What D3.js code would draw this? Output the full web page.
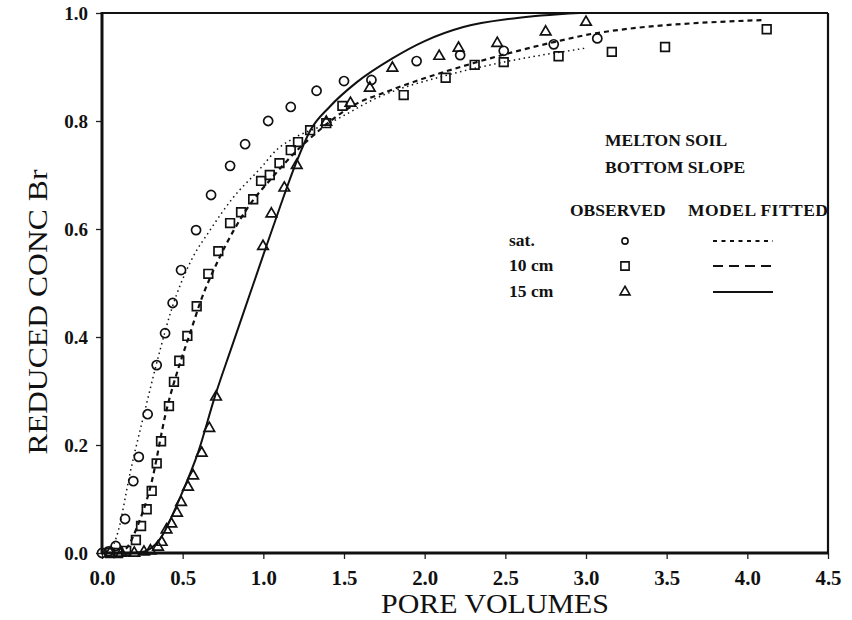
<!DOCTYPE html>
<html>
<head>
<meta charset="utf-8">
<script src="https://cdn.jsdelivr.net/npm/d3@7"></script>
<style>
  body { margin: 0; background: #fff; }
  text { fill: #111; }
</style>
</head>
<body>
<div id="main"></div>
<script>
// observed points (pore volumes, reduced conc)
var satObs = [[0.0, 0.0], [0.04, 0.003], [0.085, 0.013], [0.143, 0.063], [0.194, 0.133], [0.228, 0.178],
  [0.283, 0.257], [0.339, 0.348], [0.391, 0.407], [0.438, 0.463], [0.49, 0.524], [0.583, 0.598],
  [0.676, 0.663], [0.794, 0.717], [0.887, 0.757], [1.03, 0.80], [1.17, 0.826], [1.33, 0.856],
  [1.50, 0.874], [1.67, 0.876], [1.95, 0.911], [2.22, 0.922], [2.49, 0.93], [2.80, 0.942], [3.07, 0.953]];

var cm10Obs = [[0.05, 0.0], [0.1, 0.0], [0.15, 0.004], [0.21, 0.024], [0.242, 0.05], [0.277, 0.081],
  [0.308, 0.115], [0.339, 0.166], [0.366, 0.207], [0.415, 0.272], [0.446, 0.317], [0.479, 0.356],
  [0.529, 0.402], [0.587, 0.457], [0.659, 0.517], [0.721, 0.559], [0.794, 0.611], [0.862, 0.631],
  [0.937, 0.655], [0.986, 0.689], [1.04, 0.70], [1.10, 0.722], [1.17, 0.746], [1.215, 0.761],
  [1.29, 0.783], [1.39, 0.796], [1.49, 0.828], [1.87, 0.848], [2.13, 0.88], [2.31, 0.904],
  [2.49, 0.909], [2.83, 0.92], [3.16, 0.928], [3.49, 0.937], [4.12, 0.97]];

var cm15Obs = [[0.05, 0.0], [0.12, 0.0], [0.2, 0.0], [0.26, 0.002], [0.3, 0.004], [0.347, 0.011],
  [0.37, 0.02], [0.40, 0.043], [0.43, 0.054], [0.465, 0.074], [0.49, 0.094], [0.533, 0.122],
  [0.565, 0.143], [0.618, 0.185], [0.665, 0.231], [0.707, 0.289], [0.998, 0.568], [1.05, 0.628],
  [1.13, 0.676], [1.207, 0.718], [1.39, 0.798], [1.54, 0.833], [1.66, 0.861], [1.80, 0.898],
  [2.09, 0.92], [2.21, 0.935], [2.45, 0.944], [2.75, 0.965], [3.0, 0.983]];

// model fitted curves
var satFit = [[0.05, 0.0], [0.1, 0.04], [0.174, 0.148], [0.267, 0.265], [0.36, 0.376], [0.43, 0.45],
  [0.55, 0.54], [0.67, 0.598], [0.81, 0.657], [0.99, 0.715], [1.08, 0.746], [1.2, 0.77],
  [1.4, 0.795], [1.72, 0.845], [2.14, 0.885], [2.49, 0.909], [3.0, 0.935]];

var cm10Fit = [[0.1, 0.0], [0.155, 0.01], [0.22, 0.05], [0.30, 0.122], [0.40, 0.265], [0.484, 0.352],
  [0.546, 0.407], [0.61, 0.465], [0.73, 0.548], [0.9, 0.638], [1.06, 0.697], [1.21, 0.746],
  [1.29, 0.768], [1.54, 0.826], [1.79, 0.857], [2.3, 0.907], [2.8, 0.946], [3.07, 0.963], [4.1, 0.987]];

var cm15Fit = [[0.15, 0.0], [0.25, 0.002], [0.3, 0.008], [0.36, 0.026], [0.48, 0.1], [0.6, 0.19],
  [0.70, 0.29], [0.80, 0.378], [0.9, 0.465], [1.0, 0.552], [1.1, 0.638], [1.2, 0.72],
  [1.29, 0.782], [1.41, 0.826], [1.58, 0.872], [1.8, 0.916], [2.0, 0.948], [2.24, 0.974],
  [2.55, 0.99], [2.96, 1.0]];

var xTicks = [0, 0.5, 1.0, 1.5, 2.0, 2.5, 3.0, 3.5, 4.0, 4.5];
var yTicks = [0, 0.2, 0.4, 0.6, 0.8, 1.0];
var legendRows = ["sat.", "10 cm", "15 cm"];

var W = 852, H = 620;
var margin = { left: 102, right: 24, top: 13, bottom: 67 };

var serif = "'Liberation Serif', 'DejaVu Serif', serif";

var svg = d3.select('#main').append('svg')
  .attr('width', W).attr('height', H)
  .style('font-family', serif);

var x = d3.scaleLinear().domain([0, 4.5]).range([margin.left, W - margin.right]);
var y = d3.scaleLinear().domain([0, 1.0]).range([H - margin.bottom, margin.top]);

// axes
var xAxis = svg.append('g')
  .attr('transform', 'translate(0,' + y(0) + ')')
  .call(d3.axisBottom(x).tickValues(xTicks).tickSize(6).tickFormat(d3.format('.1f')));
var yAxis = svg.append('g')
  .attr('transform', 'translate(' + x(0) + ',0)')
  .call(d3.axisLeft(y).tickValues(yTicks).tickSize(6).tickPadding(8).tickFormat(d3.format('.1f')));

[xAxis, yAxis].forEach(function(a) {
  a.select('.domain').remove();
  a.selectAll('.tick line').attr('stroke', '#222').attr('stroke-width', 1.3);
  a.selectAll('.tick text')
    .attr('fill', '#111')
    .style('font-family', serif)
    .style('font-weight', 'bold');
});
yAxis.selectAll('.tick text').style('font-size', '19px');
xAxis.selectAll('.tick text')
  .style('font-size', '22px')
  .attr('y', 32).attr('dy', null)
  .attr('textLength', 26).attr('lengthAdjust', 'spacingAndGlyphs');

// frame
svg.append('line').attr('x1', x(0)).attr('x2', x(4.5)).attr('y1', y(1)).attr('y2', y(1))
  .attr('stroke', '#111').attr('stroke-width', 2.2);
svg.append('line').attr('x1', x(4.5)).attr('x2', x(4.5)).attr('y1', y(1)).attr('y2', y(0))
  .attr('stroke', '#111').attr('stroke-width', 2.2);
svg.append('line').attr('x1', x(0)).attr('x2', x(0)).attr('y1', y(1) - 1).attr('y2', y(0) + 1)
  .attr('stroke', '#111').attr('stroke-width', 3);
svg.append('line').attr('x1', x(0) - 1).attr('x2', x(4.5) + 1).attr('y1', y(0)).attr('y2', y(0))
  .attr('stroke', '#111').attr('stroke-width', 3);

// axis titles
svg.append('text')
  .attr('x', 495).attr('y', 613)
  .attr('text-anchor', 'middle')
  .attr('textLength', 228).attr('lengthAdjust', 'spacingAndGlyphs')
  .style('font-size', '28px')
  .text('PORE VOLUMES');
svg.append('text')
  .attr('transform', 'translate(47,312) rotate(-90)')
  .attr('text-anchor', 'middle')
  .attr('textLength', 285).attr('lengthAdjust', 'spacingAndGlyphs')
  .style('font-size', '28px')
  .text('REDUCED CONC Br');

// fitted lines
var line = d3.line()
  .x(function(d) { return x(d[0]); })
  .y(function(d) { return y(d[1]); })
  .curve(d3.curveMonotoneX);

var fits = [
  { data: satFit, dash: '1.5,3.5', width: 1.5 },
  { data: cm10Fit, dash: '5,4', width: 2.2 },
  { data: cm15Fit, dash: null, width: 2 }
];
fits.forEach(function(f) {
  svg.append('path')
    .datum(f.data)
    .attr('d', line)
    .attr('fill', 'none')
    .attr('stroke', '#111')
    .attr('stroke-width', f.width)
    .attr('stroke-dasharray', f.dash);
});

// markers
var markerPath = {
  circle: function(s) { return d3.symbol().type(d3.symbolCircle).size(s)(); },
  square: function(s) { return d3.symbol().type(d3.symbolSquare).size(s)(); },
  triangle: function(s) { return d3.symbol().type(d3.symbolTriangle).size(s)(); }
};

var obs = [
  { data: satObs, shape: 'circle', size: 65 },
  { data: cm10Obs, shape: 'square', size: 75 },
  { data: cm15Obs, shape: 'triangle', size: 48 }
];
obs.forEach(function(o) {
  svg.append('g').selectAll('path')
    .data(o.data)
    .enter().append('path')
    .attr('transform', function(d) { return 'translate(' + x(d[0]) + ',' + y(d[1]) + ')'; })
    .attr('d', markerPath[o.shape](o.size))
    .attr('fill', 'none')
    .attr('stroke', '#111')
    .attr('stroke-width', 1.7);
});

// legend
var legend = svg.append('g').style('font-weight', 'bold').style('font-size', '17.5px');
legend.append('text').attr('x', 605).attr('y', 146).text('MELTON SOIL');
legend.append('text').attr('x', 605).attr('y', 173).text('BOTTOM SLOPE');
legend.append('text').attr('x', 570).attr('y', 216).text('OBSERVED');
legend.append('text').attr('x', 688).attr('y', 216).attr('textLength', 140).text('MODEL FITTED');

var rowY = [241, 266, 292];
legendRows.forEach(function(r, i) {
  legend.append('text').attr('x', 509).attr('y', rowY[i] + 5).text(r);
  legend.append('path')
    .attr('transform', 'translate(625,' + rowY[i] + ')')
    .attr('d', markerPath[obs[i].shape](i === 0 ? 30 : obs[i].size * 0.9))
    .attr('fill', 'none').attr('stroke', '#111').attr('stroke-width', 1.6);
  legend.append('line')
    .attr('x1', 713).attr('x2', 773).attr('y1', rowY[i]).attr('y2', rowY[i])
    .attr('stroke', '#111')
    .attr('stroke-width', 2)
    .attr('stroke-dasharray', i === 0 ? '4,4.5' : (i === 1 ? '10,6' : null));
});
</script>
</body>
</html>
